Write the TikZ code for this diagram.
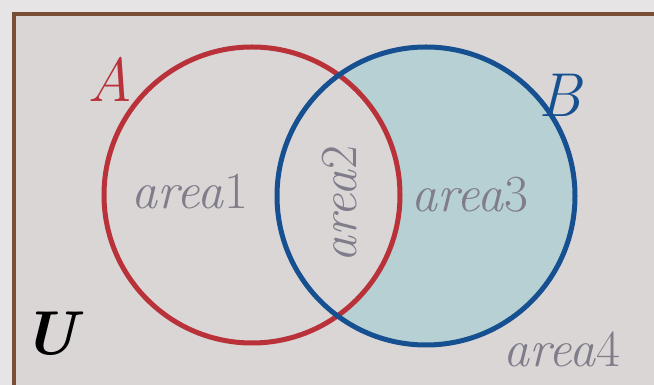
\documentclass[tikz,border=0pt]{standalone}
\usetikzlibrary{positioning}
\definecolor{framecol}{RGB}{122,78,52}
\definecolor{bgcol}{RGB}{219,214,214}
\definecolor{outcol}{RGB}{230,228,228}
\definecolor{acol}{RGB}{185,50,58}
\definecolor{bcol}{RGB}{22,80,145}
\definecolor{fillcol}{RGB}{182,208,211}
\definecolor{labcol}{RGB}{128,124,138}

\begin{document}
\begin{tikzpicture}[x=1pt,y=1pt,
  arealab/.style={text=labcol,font=\fontsize{52}{56}\selectfont},
  setlab/.style={font=\fontsize{62}{66}\selectfont\itshape}]
\useasboundingbox (0,0) rectangle (654,385);
\fill[outcol] (0,0) rectangle (654,385);
\fill[bgcol] (14,-5) rectangle (660,371);
% centres of the two sets
\coordinate (ca) at (252,190);
\coordinate (cb) at (426,189);
% B without A is shaded
\fill[fillcol] (cb) circle (149);
\fill[bgcol] (ca) circle (148);
\draw[acol,line width=5pt] (ca) circle (148);
\draw[bcol,line width=5pt] (cb) circle (149);
% universe frame, cut off right and below
\draw[framecol,line width=4pt] (660,371) -- (14,371) -- (14,-5);
\node[setlab,text=acol] (setA) at (110,306) {A};
\node[setlab,text=bcol] (setB) at (560,290) {B};
\node[setlab] (setU) at (50,51) {\bfseries U};
\node[arealab] (ar1) at (190,193) {\textit{area}1};
\node[arealab,rotate=90] (ar2) at (340,181) {\textit{area}2};
\node[arealab] (ar3) at (470,190) {\textit{area}3};
\node[arealab] (ar4) at (562,36) {\textit{area}4};
\end{tikzpicture}
\end{document}
